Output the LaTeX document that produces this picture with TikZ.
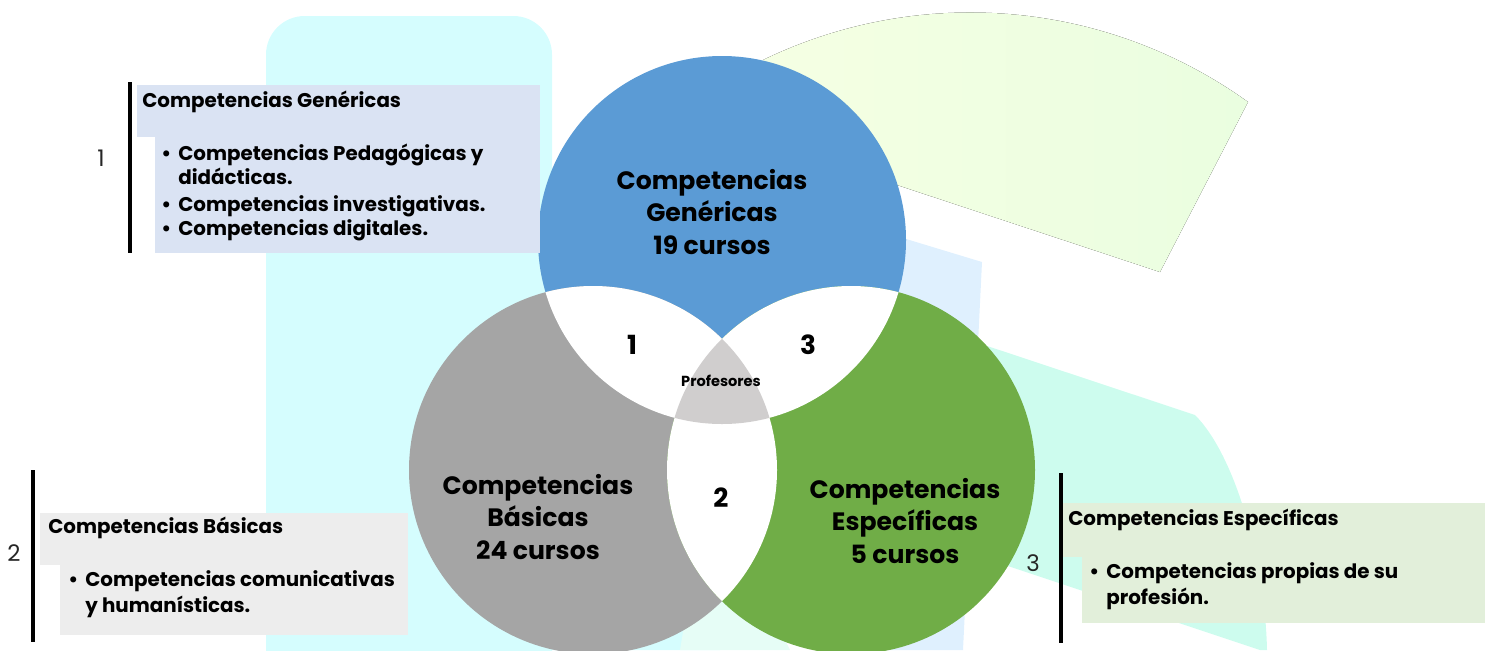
\documentclass[tikz,border=0pt]{standalone}
\usepackage{fontspec}
\setmainfont{Poppins}
\definecolor{genblue}{HTML}{5B9BD5}
\definecolor{basgray}{HTML}{A5A5A5}
\definecolor{espgreen}{HTML}{70AD47}
\definecolor{profgray}{HTML}{D0CECE}
\definecolor{genbox}{HTML}{DAE3F3}
\definecolor{basbox}{HTML}{EDEDED}
\definecolor{espbox}{HTML}{E2EFDA}
\definecolor{bgcyan}{HTML}{D5FDFE}
\definecolor{bglime}{HTML}{F5FFE3}
\definecolor{bglime2}{HTML}{EAFEE0}
\definecolor{bgsky}{HTML}{DFF0FE}
\definecolor{bgmint}{HTML}{CDFCEE}
\definecolor{bgmint2}{HTML}{E6FDF6}

\tikzset{
  circtext/.style={align=center,font=\fontsize{14.3}{18.7}\selectfont\bfseries},
  lenstext/.style={font=\fontsize{15}{18}\selectfont\bfseries},
  headtext/.style={anchor=base west,inner sep=0pt,font=\fontsize{11.3}{13.5}\selectfont\bfseries},
  itemtext/.style={anchor=base west,inner sep=0pt,font=\fontsize{11.3}{13.5}\selectfont\bfseries},
  sidenum/.style={font=\fontsize{13}{15}\selectfont,text=black!85},
  sidebar/.style={line width=2.2pt,black}
}

\begin{document}
\begin{tikzpicture}[x=0.02cm,y=-0.02cm]
\useasboundingbox (0,0) rectangle (1487,650);
% faint background shapes
\fill[bgcyan,rounded corners=22pt] (266,16) rectangle (552,700);
\fill[bgcyan] (266,300) -- (552,300) -- (720,650) -- (284,650) .. controls (272,560) .. (266,480) -- cycle;
\fill[bgmint2] (690,590) -- (760,590) -- (790,650) -- (680,650) -- cycle;
\fill[left color=bglime,right color=bglime2] (763,60) .. controls (920,-16) and (1106,0) .. (1248,102) -- (1160,272) -- (897,185) -- (770,140) -- cycle;
\fill[bgsky] (860,225) -- (982,262) -- (963,650) -- (880,650) -- cycle;
\fill[bgmint] (930,327) -- (1195,415) .. controls (1235,455) and (1265,560) .. (1267,650) -- (1260,650) -- (990,560) -- cycle;

% venn circles
\coordinate (cgen) at (722,240);
\coordinate (cbas) at (593,470);
\coordinate (cesp) at (851,470);
\fill[genblue] (cgen) circle (184);
\fill[basgray] (cbas) circle (184);
\fill[espgreen] (cesp) circle (184);
\begin{scope}
  \clip (cgen) circle (184);
  \fill[white] (cbas) circle (184);
  \fill[white] (cesp) circle (184);
\end{scope}
\begin{scope}
  \clip (cbas) circle (184);
  \fill[white] (cesp) circle (184);
\end{scope}
\begin{scope}
  \clip (cgen) circle (184);
  \clip (cbas) circle (184);
  \fill[profgray] (cesp) circle (184);
\end{scope}

\node[circtext] (gen) at (712,212) {Competencias\\Genéricas\\19 cursos};
\node[circtext] (bas) at (538,517) {Competencias\\Básicas\\24 cursos};
\node[circtext] (esp) at (905,521) {Competencias\\Específicas\\5 cursos};
\node[lenstext] (l1) at (632,345) {1};
\node[lenstext] (l3) at (808,345) {3};
\node[lenstext] (l2) at (721,498) {2};
\node[font=\fontsize{8.3}{10}\selectfont\bfseries] (prof) at (721,381) {Profesores};

% box 1
\fill[genbox] (137,85) rectangle (540,137);
\fill[genbox] (155,137) rectangle (540,253);
\draw[sidebar] (130,82) -- (130,253);
\node[sidenum] (n1) at (101,158) {1};
\node[headtext] (h1) at (142,107) {Competencias Genéricas};
\node[itemtext] (b1) at (161,160) {•};
\node[itemtext] (i1) at (178,160) {Competencias Pedagógicas y};
\node[itemtext] (i1b) at (178,184) {didácticas.};
\node[itemtext] (b2) at (161,211) {•};
\node[itemtext] (i2) at (178,211) {Competencias investigativas.};
\node[itemtext] (b3) at (161,235) {•};
\node[itemtext] (i3) at (178,235) {Competencias digitales.};

% box 2
\fill[basbox] (40,513) rectangle (408,565);
\fill[basbox] (60,565) rectangle (408,635);
\draw[sidebar] (33,470) -- (33,642);
\node[sidenum] (n2) at (14,553) {2};
\node[headtext] (h2) at (48,533) {Competencias Básicas};
\node[itemtext] (b4) at (68,586) {•};
\node[itemtext] (i4) at (85,586) {Competencias comunicativas};
\node[itemtext] (i4b) at (85,612) {y humanísticas.};

% box 3
\fill[espbox] (1063,503) rectangle (1485,557);
\fill[espbox] (1082,557) rectangle (1485,623);
\draw[sidebar] (1061,473) -- (1061,643);
\node[sidenum] (n3) at (1033,563) {3};
\node[headtext] (h3) at (1068,525) {Competencias Específicas};
\node[itemtext] (b5) at (1089,578) {•};
\node[itemtext] (i5) at (1106,578) {Competencias propias de su};
\node[itemtext] (i5b) at (1106,604) {profesión.};
\end{tikzpicture}
\end{document}
